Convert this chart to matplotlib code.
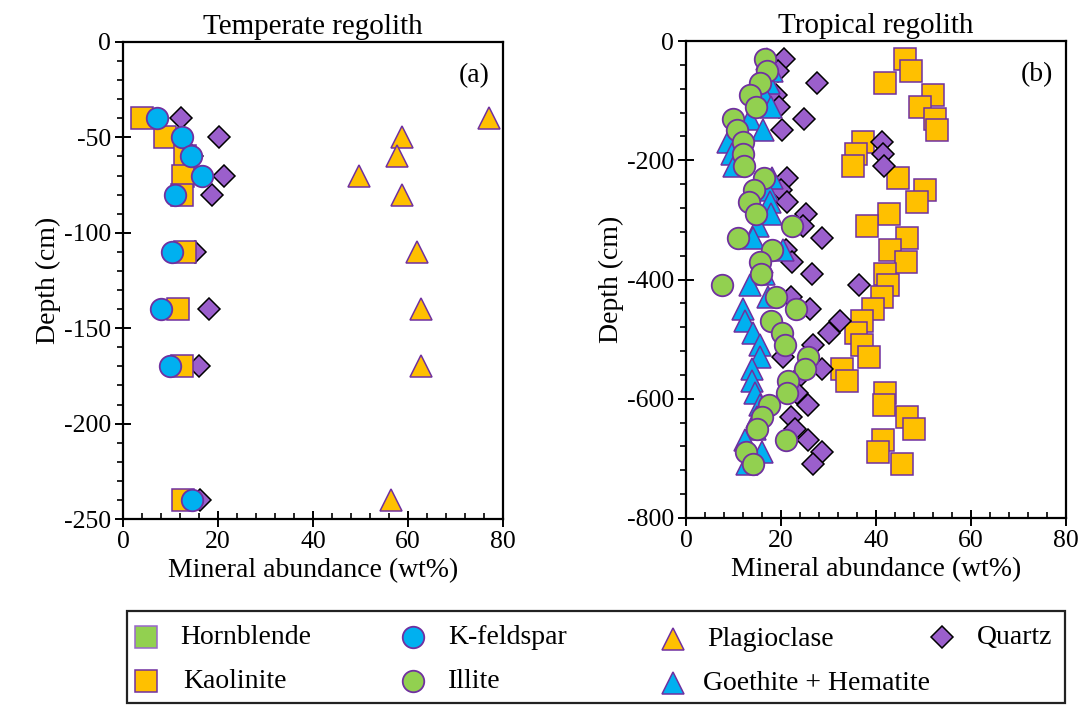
import matplotlib
matplotlib.use("Agg")
import matplotlib.pyplot as plt
from matplotlib.patches import Rectangle
from matplotlib.ticker import MultipleLocator

plt.rcParams['font.family'] = ['Liberation Serif', 'DejaVu Serif']
plt.rcParams['axes.unicode_minus'] = False

# ---------------- data ----------------
temp_depth = [-40, -50, -60, -70, -80, -110, -140, -170, -240]
temp_kaolinite = [3.9, 8.8, 13.1, 12.7, 12.4, 13.1, 11.6, 12.4, 12.7]
temp_kfeldspar = [7.1, 12.4, 14.3, 16.6, 10.9, 10.3, 8.1, 9.9, 14.5]
temp_quartz = [12.2, 20.2, 14.5, 21.3, 18.7, 15.2, 18.0, 15.9, 16.2]
temp_plagioclase = [77.1, 58.7, 57.7, 49.6, 58.7, 61.8, 62.7, 62.7, 56.5]

trop_depth = [-30, -50, -70, -90, -110, -130, -150, -170, -190, -210,
              -230, -250, -270, -290, -310, -330, -350, -370, -390, -410,
              -430, -450, -470, -490, -510, -530, -550, -570, -590, -610,
              -630, -650, -670, -690, -710]
trop_kaolinite = [46.2, 47.4, 41.8, 51.9, 49.3, 52.5, 52.9, 37.3, 35.8, 35.2,
                  44.6, 50.3, 48.6, 42.8, 38.0, 46.6, 42.9, 46.3, 41.8, 42.6,
                  41.2, 39.4, 37.1, 35.8, 37.0, 38.6, 32.8, 33.8, 41.8, 41.7,
                  46.5, 47.9, 41.5, 40.5, 45.5]
trop_quartz = [20.7, 19.4, 27.6, 18.9, 19.6, 24.9, 20.3, 41.2, 41.5, 41.7,
               21.2, 20.1, 21.2, 25.2, 24.7, 28.7, 21.0, 22.3, 26.5, 36.4,
               22.1, 26.0, 32.4, 30.1, 26.8, 20.4, 28.6, 23.0, 23.3, 25.6,
               22.1, 22.9, 25.6, 28.7, 26.7]
trop_goethite = [17.0, 18.0, 17.5, 16.5, 17.9, 13.5, 16.3, 8.9, 9.6, 10.0,
                 18.2, 17.0, 17.7, 17.9, 15.2, 14.2, 20.5, 16.0, 16.5, 13.5,
                 17.3, 11.9, 12.4, 14.2, 15.6, 15.6, 13.8, 13.8, 14.5, 15.6,
                 15.0, 14.5, 12.5, 15.9, 12.8]
trop_illite = [16.6, 17.0, 15.6, 13.5, 14.7, 9.8, 10.7, 11.9, 12.1, 12.3,
               16.5, 14.4, 13.3, 14.7, 22.3, 11.0, 18.0, 15.6, 15.8, 7.6,
               18.9, 23.1, 17.9, 20.3, 20.8, 25.6, 25.0, 21.4, 21.2, 17.5,
               15.9, 14.9, 21.0, 12.6, 14.0]

legend_labels = ["Hornblende", "K-feldspar", "Plagioclase", "Quartz",
                 "Kaolinite", "Illite", "Goethite + Hematite"]

# ---------------- styles ----------------
GOLD = '#FFC000'
BLUE = '#00B0F0'
GREEN = '#92D050'
PURPLE = '#9B5FCC'
EDGE = '#7030A0'

sty = {
    'Hornblende': dict(marker='s', mfc=GREEN, mec='#9966CC', ms=15.5, mew=1.1),
    'Kaolinite': dict(marker='s', mfc=GOLD, mec=EDGE, ms=15.5, mew=1.1),
    'K-feldspar': dict(marker='o', mfc=BLUE, mec=EDGE, ms=15.5, mew=1.3),
    'Illite': dict(marker='o', mfc=GREEN, mec=EDGE, ms=15.5, mew=1.3),
    'Plagioclase': dict(marker='^', mfc=GOLD, mec=EDGE, ms=16, mew=1.1),
    'Goethite + Hematite': dict(marker='^', mfc=BLUE, mec=EDGE, ms=16, mew=1.1),
    'Quartz': dict(marker='D', mfc=PURPLE, mec='black', ms=11.2, mew=1.1),
}

W, H = 1088, 705
fig = plt.figure(figsize=(W / 100, H / 100), dpi=100)


def px_axes(x0, y0, x1, y1):
    return fig.add_axes([x0 / W, 1 - y1 / H, (x1 - x0) / W, (y1 - y0) / H])


FS = 20


def style_axes(ax, ymaj, ymin):
    for s in ax.spines.values():
        s.set_linewidth(1.6)
    ax.xaxis.set_major_locator(MultipleLocator(20))
    ax.xaxis.set_minor_locator(MultipleLocator(4))
    ax.yaxis.set_major_locator(MultipleLocator(ymaj))
    ax.yaxis.set_minor_locator(MultipleLocator(ymin))
    ax.tick_params(which='major', direction='inout', length=11, width=1.4,
                   labelsize=FS - 1.5, pad=3)
    ax.tick_params(axis='x', which='minor', direction='in', length=4, width=1.2)
    ax.tick_params(axis='y', which='minor', direction='out', length=4, width=1.2)
    ax.set_xlabel('Mineral abundance (wt%)', fontsize=FS, labelpad=4)
    ax.set_ylabel('Depth (cm)', fontsize=FS, labelpad=2)


def pl(ax, x, y, name, z):
    ax.plot(x, y, ls='none', zorder=z, clip_on=False, **sty[name])


# ---------------- panel (a) ----------------
axa = px_axes(123, 42, 503, 519)
pl(axa, temp_quartz, temp_depth, 'Quartz', 3)
pl(axa, temp_kaolinite, temp_depth, 'Kaolinite', 4)
pl(axa, temp_kfeldspar, temp_depth, 'K-feldspar', 5)
pl(axa, temp_plagioclase, temp_depth, 'Plagioclase', 6)
axa.set_xlim(0, 80)
axa.set_ylim(-250, 0)
style_axes(axa, 50, 10)
axa.set_title('Temperate regolith', fontsize=FS + 1, pad=6)
axa.text(0.965, 0.955, '(a)', transform=axa.transAxes, ha='right', va='top',
         fontsize=FS)

# ---------------- panel (b) ----------------
axb = px_axes(686, 41, 1066, 518)
pl(axb, trop_kaolinite, trop_depth, 'Kaolinite', 3)
pl(axb, trop_quartz, trop_depth, 'Quartz', 4)
pl(axb, trop_goethite, trop_depth, 'Goethite + Hematite', 5)
pl(axb, trop_illite, trop_depth, 'Illite', 6)
axb.set_xlim(0, 80)
axb.set_ylim(-800, 0)
style_axes(axb, 200, 40)
axb.set_title('Tropical regolith', fontsize=FS + 1, pad=6)
axb.text(0.965, 0.955, '(b)', transform=axb.transAxes, ha='right', va='top',
         fontsize=FS)

# ---------------- legend (manual, Excel-like layout) ----------------
lax = fig.add_axes([0, 0, 1, 1], zorder=10)
lax.set_xlim(0, W)
lax.set_ylim(H, 0)
lax.axis('off')
lax.add_patch(Rectangle((127, 611), 1065 - 127, 92, fill=False,
                        edgecolor='#222222', lw=1.6))
mk_x = [146, 413, 673, 942, 146, 413, 673]
tx_x = [180, 448, 707, 977, 183, 448, 703]
row_y = [637, 637, 639, 637, 681, 681, 683]
for lab, mx, tx, ry in zip(legend_labels, mk_x, tx_x, row_y):
    lax.plot([mx], [ry], ls='none', **sty[lab])
    lax.text(tx, ry, lab, ha='left', va='center', fontsize=FS)

fig.savefig('out.png', dpi=100)
